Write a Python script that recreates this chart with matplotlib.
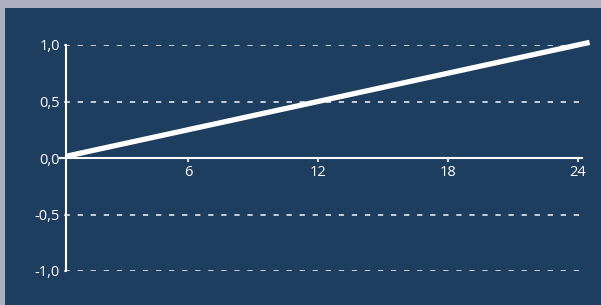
import matplotlib
matplotlib.use('Agg')
import matplotlib.pyplot as plt
from matplotlib.patches import Rectangle
from matplotlib.ticker import FuncFormatter

# Colours
bg_blue = '#1e3e60'
frame_gray = '#adafbe'
white = '#ffffff'
grid_col = '#d5dae0'

# Data
line_x = [0.37, 24.55]
line_y = [0.015, 1.023]
x_ticks = [6, 12, 18, 24]
y_ticks = [-1.0, -0.5, 0.0, 0.5, 1.0]

plt.rcParams['font.family'] = ['Open Sans', 'DejaVu Sans']
plt.rcParams['lines.scale_dashes'] = False

fig = plt.figure(figsize=(6.01, 3.05), dpi=100, facecolor=frame_gray)
# blue panel (gray strip on top and left)
fig.patches.append(Rectangle((5 / 601, 0), 1, 297 / 305, transform=fig.transFigure,
                             facecolor=bg_blue, edgecolor='none', zorder=-5))

ax = fig.add_axes([66 / 601, 34 / 305, 516 / 601, 226 / 305])
ax.set_facecolor('none')
ax.set_xlim(0.37, 24.2)
ax.set_ylim(-1.0, 1.0)

# dashed gridlines
for v in y_ticks:
    if v != 0:
        ax.axhline(v, color=grid_col, lw=1.3, ls=(1.0, (3.8, 5.6)), zorder=1)

# the line
ax.plot(line_x, line_y, color=white, lw=3.8, solid_capstyle='butt',
        clip_on=False, zorder=3)

# spines
for s in ['top', 'right']:
    ax.spines[s].set_visible(False)
ax.spines['bottom'].set_position(('data', 0))
ax.spines['bottom'].set_color(white)
ax.spines['bottom'].set_linewidth(1.5)
ax.spines['left'].set_color(white)
ax.spines['left'].set_linewidth(1.5)
# small stub of the zero line left of the axis
ax.plot([-0.011, 0], [0, 0], color=white, lw=1.5,
        transform=ax.get_yaxis_transform(), clip_on=False)

ax.set_xticks(x_ticks)
ax.set_xticklabels([str(t) for t in x_ticks])
ax.set_yticks(y_ticks)
ax.yaxis.set_major_formatter(FuncFormatter(lambda v, p: f'{v:.1f}'.replace('.', ',')))

ax.tick_params(axis='x', colors=white, direction='out', length=3.2, width=1.2,
               pad=1.5, labelsize=10.5)
ax.tick_params(axis='y', colors=white, direction='out', length=1.8, width=1.2,
               pad=2.5, labelsize=10.5)
ax.tick_params(axis='y', color=grid_col)

fig.savefig('out.png', dpi=100, facecolor=frame_gray)
